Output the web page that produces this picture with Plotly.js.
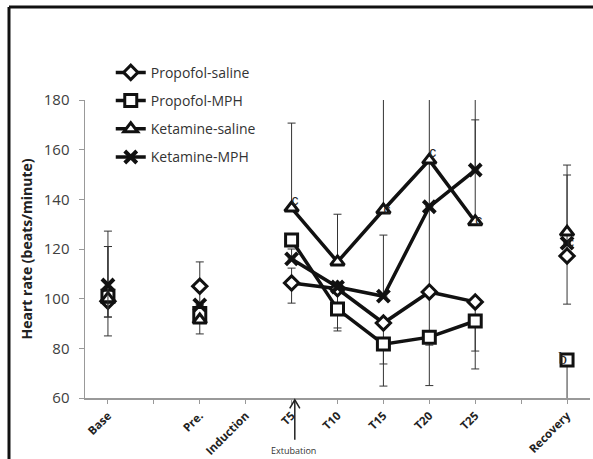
<!DOCTYPE html>
<html>
<head>
<meta charset="utf-8">
<script src="https://cdn.plot.ly/plotly-3.0.1.min.js"></script>
<style>html,body{margin:0;padding:0;background:#fff;overflow:hidden;}#chart{width:593px;height:459px;}</style>
</head>
<body>
<div id="chart"></div>
<script>
// Category positions 1..11 (two empty slots keep the original spacing)
var categories = ["Base", "", "Pre.", "Induction", "T5", "T10", "T15", "T20", "T25", "", "Recovery"];
var xPos = [1, 2, 3, 4, 5, 6, 7, 8, 9, 10, 11];

// Mean heart rate (beats/minute)
var propofolSaline = [99, null, 105, null, 106.3, 104, 90.2, 102.7, 98.7, null, 117.2];
var propofolMPH    = [101, null, 94, null, 123.6, 95.8, 81.7, 84.5, 91, null, 75.3];
var ketamineSaline = [100, null, 91.4, null, 136.5, 114.8, 135.7, 155.8, 131, null, 126.8];
var ketamineMPH    = [105.5, null, 97.5, null, 116, 104.7, 101, 137, 151.8, null, 122.4];

// Error bars (upper / lower lengths)
var psPlus  = [22, 0, 9.8, 0, 6, 0, 0, 53, 0, 0, 32.6];
var psMinus = [6.4, 0, 19.2, 0, 8.1, 17, 25.4, 37.7, 27, 0, 19.4];
var pmPlus  = [20, 0, 0, 0, 0, 0, 0, 0, 0, 0, 0];
var pmMinus = [8.4, 0, 0, 0, 0, 7.6, 8, 3.2, 12.1, 0, 25];
var ksPlus  = [0, 0, 0, 0, 34.2, 19.2, 60, 40, 50, 0, 27];
var ksMinus = [0, 0, 0, 0, 0, 0, 0, 0, 0, 0, 0];
var kmPlus  = [21.7, 0, 0, 0, 4, 0, 24.6, 0, 20.2, 0, 0];
var kmMinus = [20.5, 0, 0, 0, 0, 0, 0, 0, 0, 0, 0];

// Significance letters
var cIdx = [4, 6, 7, 8];                                   // on Ketamine-saline
var cPos = ['top right', 'middle right', 'top right', 'middle right'];
var cRecIdx = 10;                                          // recovery "c" next to Ketamine-MPH
var bIdx = 10;                                             // "b" next to Propofol-MPH
var arrowIdx = 4;                                          // arrow under T5
var arrowLabel = "Extubation";

function err(plus, minus) {
  return {type: 'data', symmetric: false, array: plus, arrayminus: minus,
          color: '#333', thickness: 1, width: 4};
}
var lineStyle = {color: '#111', width: 3.5};

var cX = cIdx.map(function (i) { return xPos[i]; }).concat([xPos[cRecIdx]]);
var cY = cIdx.map(function (i) { return ketamineSaline[i]; }).concat([ketamineMPH[cRecIdx]]);
var cT = cX.map(function () { return 'c'; });

var traces = [
  {name: 'Propofol-saline', x: xPos, y: propofolSaline, mode: 'lines+markers',
   line: lineStyle, connectgaps: false, legendgroup: 'a',
   marker: {symbol: 'diamond', size: 11, color: '#fff', line: {color: '#111', width: 3}},
   error_y: err(psPlus, psMinus)},
  {name: 'Propofol-MPH', x: xPos, y: propofolMPH, mode: 'lines+markers',
   line: lineStyle, connectgaps: false, legendgroup: 'b',
   marker: {symbol: 'square', size: 12, color: '#fff', line: {color: '#111', width: 3}},
   error_y: err(pmPlus, pmMinus)},
  {name: 'Ketamine-saline', x: xPos, y: ketamineSaline, mode: 'lines+markers',
   line: lineStyle, connectgaps: false, legendgroup: 'c',
   marker: {symbol: 'triangle-up', size: 12, color: '#fff', line: {color: '#111', width: 3}},
   error_y: err(ksPlus, ksMinus)},
  {name: 'Ketamine-MPH', x: xPos, y: ketamineMPH, mode: 'lines+markers',
   line: lineStyle, connectgaps: false, legendgroup: 'd',
   marker: {symbol: 'x-thin', size: 12, color: '#111', line: {color: '#111', width: 4}},
   error_y: err(kmPlus, kmMinus)},
  {x: cX, y: cY, text: cT, mode: 'text', showlegend: false, hoverinfo: 'skip', cliponaxis: false,
   textposition: cPos.concat(['middle right']),
   marker: {size: 20, color: 'rgba(0,0,0,0)'},
   textfont: {family: 'Liberation Sans, Arial', size: 14, color: '#222'}},
  {x: [xPos[bIdx]], y: [propofolMPH[bIdx]], text: ['b'], mode: 'text', showlegend: false,
   hoverinfo: 'skip', cliponaxis: false, textposition: 'middle left',
   marker: {size: 18, color: 'rgba(0,0,0,0)'},
   textfont: {family: 'Liberation Serif, serif', size: 17, color: '#222'}}
];

var annotations = [
  {x: xPos[arrowIdx] + 0.07, y: -0.148, xref: 'x', yref: 'paper', text: arrowLabel, showarrow: false,
   yanchor: 'top', xanchor: 'left', xshift: -26, font: {family: 'Open Sans', size: 9, color: '#333'}}
];

var ax0 = xPos[arrowIdx] + 0.07;
var layout = {
  width: 593, height: 459,
  margin: {l: 85, r: 3, t: 100, b: 61},
  paper_bgcolor: '#fff', plot_bgcolor: '#fff',
  showlegend: true,
  legend: {x: 0.051, xanchor: 'left', y: 1.145, yanchor: 'top', traceorder: 'grouped',
           tracegroupgap: 7, bgcolor: '#fff',
           font: {family: 'Open Sans', size: 14, color: '#333'}},
  xaxis: {range: [0.5, 11.5], tickvals: xPos, ticktext: categories, tickangle: -45,
          showgrid: false, zeroline: false, showline: true, linecolor: '#999', linewidth: 1.5,
          ticks: 'outside', ticklen: 4, tickcolor: '#999', ticklabelstandoff: 1,
          tickfont: {family: 'Open Sans', size: 11.5, color: '#222', weight: 'bold'}},
  yaxis: {range: [60, 180], tickvals: [60, 80, 100, 120, 140, 160, 180],
          showgrid: false, zeroline: false, showline: true, linecolor: '#999', linewidth: 1.5,
          ticks: 'outside', ticklen: 5, tickcolor: '#999', ticklabelstandoff: 6,
          tickfont: {family: 'Open Sans', size: 15, color: '#404040'},
          title: {text: '<b>Heart rate (beats/minute)</b>', standoff: 8,
                  font: {family: 'Open Sans', size: 14, color: '#222'}}},
  shapes: [
    {type: 'line', xref: 'paper', yref: 'paper', x0: -0.1505, x1: 1.006, y0: 1.312, y1: 1.312,
     line: {color: '#111', width: 3}},
    {type: 'line', xref: 'paper', yref: 'paper', x0: -0.1505, x1: -0.1505, y0: -0.21, y1: 1.312,
     line: {color: '#111', width: 3}},
    // arrow under T5
    {type: 'line', xref: 'x', yref: 'paper', x0: ax0, x1: ax0, y0: -0.14, y1: -0.008,
     line: {color: '#222', width: 1.5}},
    {type: 'path', xref: 'x', yref: 'paper',
     path: 'M ' + (ax0 - 0.11) + ',-0.035 L ' + ax0 + ',-0.006 L ' + (ax0 + 0.11) + ',-0.035',
     line: {color: '#222', width: 1.5}}
  ],
  annotations: annotations
};

Plotly.newPlot('chart', traces, layout, {displayModeBar: false, staticPlot: true});
</script>
</body>
</html>
